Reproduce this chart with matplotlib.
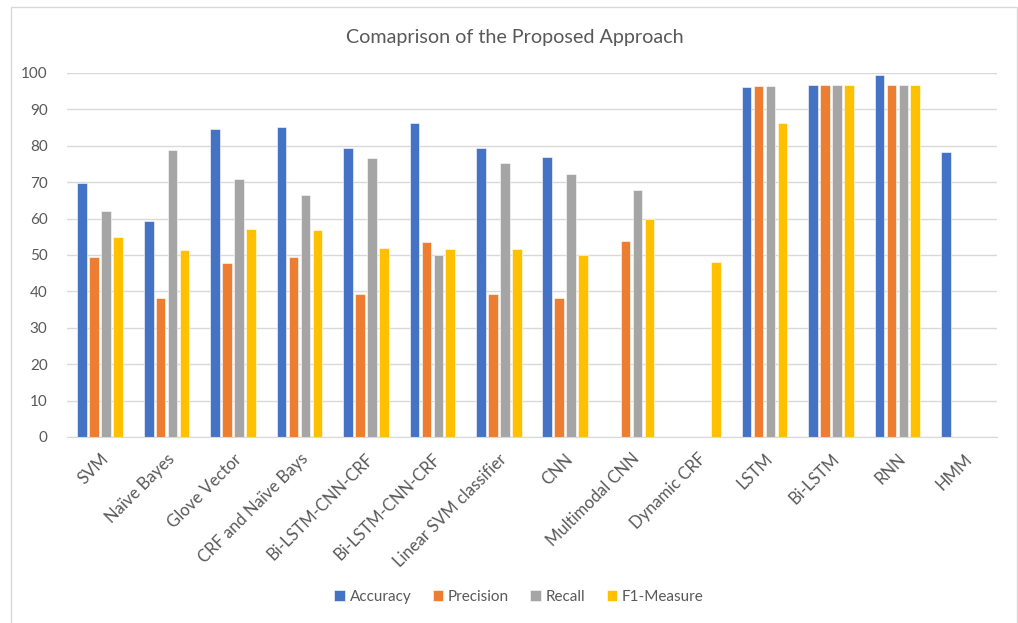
import numpy as np
import matplotlib.pyplot as plt
from matplotlib.patches import Rectangle

categories = ["SVM", "Naïve Bayes", "Glove Vector", "CRF and Naïve Bays",
              "Bi-LSTM-CNN-CRF", "Bi-LSTM-CNN-CRF", "Linear SVM classifier",
              "CNN", "Multimodal CNN", "Dynamic CRF", "LSTM", "Bi-LSTM", "RNN", "HMM"]
accuracy = [69.7, 59.4, 84.5, 85.1, 79.4, 86.3, 79.4, 76.8, 0, 0, 96.2, 96.8, 99.4, 78.3]
precision = [49.4, 38.1, 47.8, 49.4, 39.3, 53.5, 39.2, 38.3, 53.9, 0, 96.5, 96.8, 96.8, 0]
recall = [62.1, 78.8, 71.0, 66.6, 76.6, 50.0, 75.4, 72.2, 67.9, 0, 96.3, 96.8, 96.7, 0]
f1_measure = [55.0, 51.4, 57.1, 56.8, 51.9, 51.6, 51.6, 50.1, 59.8, 48.2, 86.3, 96.8, 96.6, 0]

series = ["Accuracy", "Precision", "Recall", "F1-Measure"]
colors = ["#4472C4", "#ED7D31", "#A5A5A5", "#FFC000"]

plt.rcParams['font.family'] = ['Lato', 'DejaVu Sans']
W, H = 1018, 623
fig = plt.figure(figsize=(W / 100, H / 100), dpi=100)

# light frame around the whole chart
fig.patches.append(Rectangle((11 / W, -5 / H), 1006 / W, 621 / H, transform=fig.transFigure,
                             fill=False, edgecolor="#d9d9d9", linewidth=1))

ax = fig.add_axes([67 / W, (H - 437) / H, 930 / W, 364 / H])
x = np.arange(len(categories))
step = 0.18
width = 0.145
for i, (vals, c, name) in enumerate(zip([accuracy, precision, recall, f1_measure], colors, series)):
    ax.bar(x + (i - 1.5) * step, vals, width, color=c, label=name,
           edgecolor="white", linewidth=0.4)

ax.set_xlim(-0.5, len(categories) - 0.5)
ax.set_ylim(0, 100)
ax.set_yticks(range(0, 101, 10))
ax.yaxis.grid(True, color="#d9d9d9", linewidth=1)
ax.set_axisbelow(True)
for s in ["top", "right", "left"]:
    ax.spines[s].set_visible(False)
ax.spines["bottom"].set_color("#d9d9d9")
ax.tick_params(axis="y", length=0, pad=14, labelsize=11, labelcolor="#595959")
ax.tick_params(axis="x", length=0)
ax.set_xticks(x)
ax.set_xticklabels([])
for xi, lab in zip(x, categories):
    ax.annotate(lab, xy=(xi, 0), xycoords=("data", "axes fraction"),
                xytext=(4, -14), textcoords="offset points",
                rotation=45, rotation_mode="anchor", ha="right", va="center",
                fontsize=12, color="#595959")

fig.text(515 / W, 1 - 37 / H, "Comaprison of the Proposed Approach",
         ha="center", va="center", fontsize=14.2, color="#595959")

leg = fig.legend(loc="center", bbox_to_anchor=(519 / W, 1 - 597 / H), ncol=4,
                 frameon=False, fontsize=11, handlelength=0.7, handleheight=0.7,
                 handletextpad=0.3, columnspacing=1.4)
for t in leg.get_texts():
    t.set_color("#595959")

fig.savefig("out.png", dpi=100)
